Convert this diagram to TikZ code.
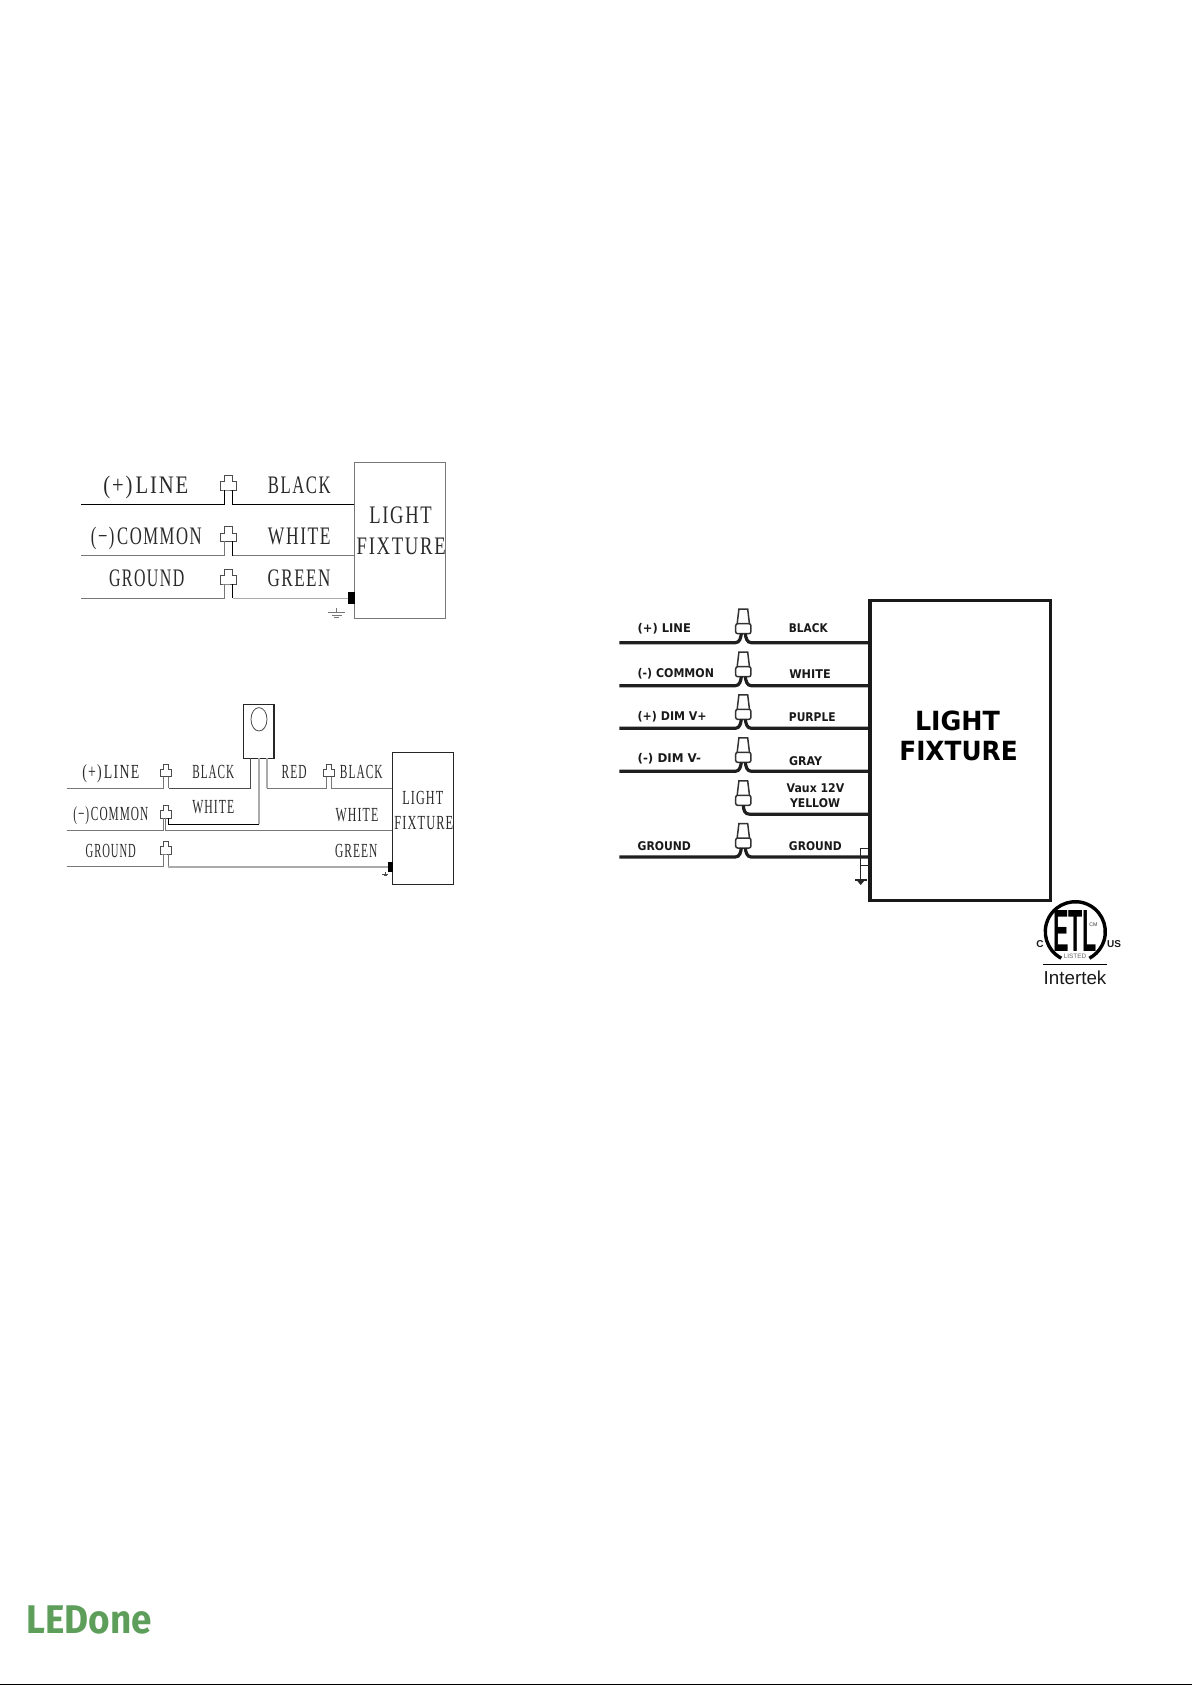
\documentclass[tikz,border=0pt]{standalone}
\usepackage{fontspec}
\usepackage{graphicx}
\usetikzlibrary{calc}
\setmainfont{Liberation Serif}
\newfontfamily\spfont[LetterSpace=9]{Liberation Serif}
\newfontfamily\vdfont{DejaVu Sans}
\newfontfamily\arfont{Liberation Sans}
\newfontfamily\logofont{Fira Sans}
\newdimen\pxu \pxu=0.5pt
\definecolor{ledgreen}{HTML}{5C9E5A}
\definecolor{wgray}{HTML}{777777}
\definecolor{wlight}{HTML}{ABABAB}
\definecolor{inkA}{HTML}{2A2A2A}
% \lb{name}{x}{y}{width px}{style}{text}
\newcommand\lb[6]{\node[lab,#5] (#1) at (#2,#3) {\resizebox{#4\pxu}{\height}{#6}};}
\tikzset{
  lab/.style={inner sep=0pt,text=inkA,anchor=center},
  serA/.style={font=\spfont\fontsize{12.6}{14}\selectfont},
  serB/.style={font=\spfont\fontsize{10}{12}\selectfont},
  vdB/.style={font=\vdfont\bfseries\fontsize{6}{7}\selectfont,text=black!90},
  vdL/.style={font=\vdfont\bfseries\fontsize{13.2}{15}\selectfont,text=black},
  wireK/.style={draw=black,line width=0.5pt},
  wireG/.style={draw=wgray,line width=0.5pt},
  wireL/.style={draw=wlight,line width=0.6pt},
  wireC/.style={draw=black!88,line width=1.6pt},
  fixA/.style={draw=wgray,line width=0.5pt,inner sep=0pt},
  fixB/.style={draw=black!85,line width=0.6pt,inner sep=0pt},
  fixC/.style={draw=black!90,line width=1.7pt,inner sep=0pt},
  clampline/.style={draw=black!70,line width=0.45pt,fill=white},
  clampA/.pic={
    \draw[clampline] (-4.2,0) -- (-7.7,0) -- (-7.7,-8.4) -- (-4.2,-8.4) -- (-4.2,-15) -- (4.2,-15) -- (4.2,-8.4) -- (7.7,-8.4) -- (7.7,0) -- cycle;
    \coordinate (l) at (-4.2,0); \coordinate (r) at (4.2,0);},
  clampB/.pic={
    \draw[clampline] (-2.7,0) -- (-5.7,0) -- (-5.7,-7.5) -- (-2.7,-7.5) -- (-2.7,-12.5) -- (2.7,-12.5) -- (2.7,-7.5) -- (5.7,-7.5) -- (5.7,0) -- cycle;
    \coordinate (l) at (-2.7,0); \coordinate (m) at (0,0); \coordinate (r) at (2.7,0);},
  clampC/.pic={
    \draw[clampline,draw=black!80,line width=0.75pt] (-6.2,-9.5) -- (-4.4,-24.5) -- (4.4,-24.5) -- (6.2,-9.5);
    \draw[clampline,draw=black!80,line width=0.75pt,rounded corners=1pt] (-7.6,0) rectangle (7.6,-10);
    \coordinate (l) at (-2,0); \coordinate (r) at (2,0); \coordinate (m) at (0,0);},
}
\begin{document}
\begin{tikzpicture}[x=0.5pt,y=-0.5pt]
\useasboundingbox (0,0) rectangle (1192,1685);
% ---------- first diagram ----------
\node[fixA,minimum width=45.7pt,minimum height=78pt] (fxa) at (400,540) {};
\pic (a1) at (228.5,490) {clampA};
\pic (a2) at (228.5,541.4) {clampA};
\pic (a3) at (228.5,584) {clampA};
\coordinate (a1s) at (81,504.3);
\coordinate (a2s) at (81,555.7);
\coordinate (a3s) at (81,598.3);
\draw[wireK] (a1s) -- (a1l |- a1s) -- (a1l);
\draw[wireK] (a1r) -- (a1r |- a1s) -- (a1s -| fxa.west);
\draw[wireG] (a2s) -- (a2l |- a2s) -- (a2l);
\draw[wireK] (a2r) -- (a2r |- a2s);
\draw[wireG] (a2r |- a2s) -- (a2s -| fxa.west);
\draw[wireG] (a3s) -- (a3l |- a3s) -- (a3l);
\draw[wireK] (a3r) -- (a3r |- a3s);
\draw[wireL] (a3r |- a3s) -- (a3s -| fxa.west);
\fill[black] (348,591.7) rectangle (354.7,603.7);
\coordinate (ag) at (336.7,607.7);
\draw[wireG,line width=0.4pt] (ag) -- ++(0,5) ++(-8.5,0) -- ++(17,0) ++(-13.5,2.5) -- ++(10,0) ++(-7.5,2.5) -- ++(5,0);
\lb{t1}{145.8}{487.7}{85}{serA}{(+)\kern2ptLINE}
\lb{t2}{299.3}{485}{62.7}{serA}{BLACK}
\lb{t3}{146.3}{538.7}{110.7}{serA}{(−)\kern2ptCOMMON}
\lb{t4}{299.3}{536}{62.7}{serA}{WHITE}
\lb{t5}{146.7}{578.5}{75.3}{serA}{GROUND}
\lb{t6}{299}{578.5}{63}{serA}{GREEN}
\lb{t7}{400.5}{515.7}{62.4}{serA}{LIGHT}
\lb{t8}{401.2}{546}{89}{serA}{FIXTURE}
% ---------- second diagram ----------
\node[fixB,minimum width=30.3pt,minimum height=66pt] (fxb) at (423,818.3) {};
\node[fixB,minimum width=15.15pt,minimum height=27pt] (sen) at (258.85,731.3) {};
\draw[black!70,line width=0.4pt] (259,719.3) ellipse (8 and 11.7);
\pic (b1) at (166,776.7) {clampB};
\pic (b2) at (165.7,818.3) {clampB};
\pic (b3) at (329,776.7) {clampB};
\pic (b4) at (165.7,854) {clampB};
\coordinate (b1s) at (66.7,788.3);
\coordinate (b2s) at (66.7,830.3);
\coordinate (b4s) at (66.7,866.3);
\coordinate (s1) at (250.3,758.3);
\coordinate (s2) at (259,758.3);
\coordinate (s3) at (266.7,758.3);
\draw[wireG] (b1s) -- (b1l |- b1s) -- (b1l);
\draw[wireG] (b1r) -- (b1r |- b1s);
\draw[black!70,line width=0.5pt] (b1r |- b1s) -- (s1 |- b1s) -- (s1);
\draw[wireL,line width=0.8pt] (s3) -- (s3 |- b1s);
\draw[wireG] (s3 |- b1s) -- (b3l |- b1s) -- (b3l);
\draw[wireG] (b3r) -- (b3r |- b1s) -- (b1s -| fxb.west);
\draw[wireL,line width=0.8pt] (s2) -- ($(s2)+(0,66)$) coordinate (s2b);
\draw[wireK] (s2b) -- (b2r |- s2b) -- (b2r);
\draw[wireG] (b2s) -- (b2l |- b2s) -- (b2l);
\draw[wireG] (b2m) -- (b2m |- b2s) -- (b2s -| fxb.west);
\draw[wireG] (b4s) -- (b4l |- b4s) -- (b4l);
\draw[wireG] (b4r) -- ($(b4r |- b4s)+(0,0.7)$) coordinate (b4c);
\draw[wireL,line width=0.8pt] (b4c) -- (b4c -| fxb.west);
\fill[black] (388.3,861.7) rectangle (392.7,871.7);
\coordinate (bg) at (385,871.5);
\draw[black!70,line width=0.3pt] (bg) -- ++(0,2.5) ++(-3,0) -- ++(6,0) ++(-4.5,1.5) -- ++(3,0);
\lb{u1}{110.8}{773.2}{57}{serB}{(+)\kern1.5ptLINE}
\lb{u2}{213.3}{771.7}{42}{serB}{BLACK}
\lb{u3}{294.2}{771.7}{25}{serB}{RED}
\lb{u4}{361.3}{771.7}{42.7}{serB}{BLACK}
\lb{u5}{110.8}{816}{75}{serB}{(−)\kern1.5ptCOMMON}
\lb{u6}{213.3}{807.3}{42}{serB}{WHITE}
\lb{u7}{357}{815}{42.6}{serB}{WHITE}
\lb{u8}{110.8}{850.7}{50.3}{serB}{GROUND}
\lb{u9}{356.2}{850.7}{42.3}{serB}{GREEN}
\lb{u10}{422.8}{798.3}{41}{serB}{LIGHT}
\lb{u11}{423.8}{823.3}{59}{serB}{FIXTURE}
% ---------- third diagram ----------
\node[fixC,minimum width=90.15pt,minimum height=150pt] (fxc) at (960.15,750.3) {};
\foreach \n/\y in {1/642.7,2/685.7,3/728.3,4/771.3,5/814.3,6/857}{
  \pic (c\n) at (743.3,\y-9) {clampC};
}
\foreach \n/\y in {1/642.7,2/685.7,3/728.3,4/771.3,6/857}{
  \coordinate (cs\n) at (619.3,\y);
  \draw[wireC] (cs\n) -- ($(c\n l |- cs\n)+(-6,0)$) .. controls ($(c\n l |- cs\n)+(-1.5,0)$) and ($(c\n l)+(-0.5,4)$) .. (c\n l);
}
\foreach \n/\y in {1/642.7,2/685.7,3/728.3,4/771.3,6/857}{
  \coordinate (ce\n) at (800,\y);
  \draw[wireC] (c\n r) .. controls ($(c\n r)+(0.5,4)$) and ($(c\n r |- ce\n)+(1.5,0)$) .. ($(c\n r |- ce\n)+(6,0)$) -- (ce\n -| fxc.west);
}
\coordinate (ce5) at (800,814.3);
\draw[wireC] (c5m) .. controls ($(c5m)+(0.5,5)$) and ($(c5m |- ce5)+(1,0)$) .. ($(c5m |- ce5)+(7,0)$) -- (ce5 -| fxc.west);
\coordinate (gt) at (860.7,848.3);
\coordinate (gb) at (860.7,880);
\draw[black!85,line width=0.75pt] (gt -| fxc.west) -- (gt) -- (gb);
\draw[black!85,line width=0.75pt] (860.7,865.7) -- (870,865.7);
\draw[black!85,line width=0.75pt] (855,880) -- (866.7,880);
\fill[black!85] (856.5,880) -- (865,880) -- (860.7,885) -- cycle;
\lb{v1}{664.3}{628.8}{53.3}{vdB}{(+) LINE}
\lb{v2}{808.3}{627.7}{38.7}{vdB}{BLACK}
\lb{v3}{675.8}{673.7}{76.3}{vdB}{(-) COMMON}
\lb{v4}{810}{674}{41.4}{vdB}{WHITE}
\lb{v5}{672.2}{716.8}{69}{vdB}{(+) DIM V+}
\lb{v6}{812.3}{716.8}{46.7}{vdB}{PURPLE}
\lb{v7}{669.3}{758.5}{63.3}{vdB}{(-) DIM V-}
\lb{v8}{805.5}{760.7}{33}{vdB}{GRAY}
\lb{v9}{815.5}{788.2}{57.6}{vdB}{Vaux 12V}
\lb{v10}{815}{803.3}{50}{vdB}{YELLOW}
\lb{v11}{664.3}{846.4}{53.3}{vdB}{GROUND}
\lb{v12}{815.3}{846.4}{52.7}{vdB}{GROUND}
\lb{v13}{957.5}{720.7}{85}{vdL}{LIGHT}
\lb{v14}{958.5}{750.7}{118.4}{vdL}{FIXTURE}
% ---------- listing mark ----------
\coordinate (ring) at (1075.3,931.7);
\draw[black,line width=1.7pt] (ring) ++(118:30) arc[start angle=118,end angle=422,radius=30];
\node[inner sep=0pt,text=black,font=\arfont\bfseries\fontsize{24}{24}\selectfont] (etl) at (1075,930.5) {\resizebox{22pt}{20.5pt}{ETL}};
\node[inner sep=0pt,text=black!80,font=\arfont\fontsize{2.6}{3}\selectfont] (cm) at (1093.5,925) {CM};
\node[inner sep=0pt,text=black!60,font=\arfont\fontsize{3.2}{3.2}\selectfont] (listed) at (1075,956.5) {LISTED};
\node[inner sep=0pt,text=black!90,font=\arfont\bfseries\fontsize{5}{5}\selectfont] (cc) at (1040,944) {C};
\node[inner sep=0pt,text=black!90,font=\arfont\bfseries\fontsize{5}{5}\selectfont] (us) at (1114,944.3) {US};
\coordinate (ila) at (1043.3,964.3);
\coordinate (ilb) at (1106.7,964.3);
\draw[black,line width=0.5pt] (ila) -- (ilb);
\node[inner sep=0pt,text=black!90,font=\arfont\fontsize{9.4}{9.4}\selectfont] (itk) at (1075,977.7) {Intertek};
% ---------- footer ----------
\node[inner sep=0pt,text=ledgreen,font=\logofont\bfseries\fontsize{20}{20}\selectfont] (logo) at (89,1619.7) {\resizebox{125.5\pxu}{\height}{LEDone}};
\coordinate (fa) at (0,1684.5);
\coordinate (fb) at (1192,1684.5);
\draw[black,line width=0.5pt] (fa) -- (fb);
\end{tikzpicture}
\end{document}
